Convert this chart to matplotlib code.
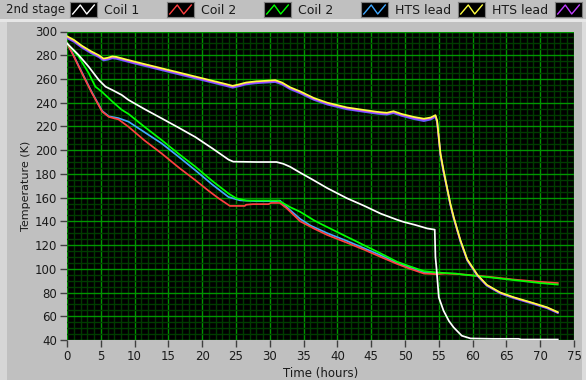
import matplotlib
matplotlib.use('Agg')
import matplotlib.pyplot as plt
from matplotlib.patches import Rectangle
from matplotlib.ticker import MultipleLocator

# time axis shared by the three overlapping HTS traces at the top
hts_t = [0, 1, 2.2, 3.5, 4.7, 5.4, 6.0, 6.7, 7.3, 8.5,
         10, 12, 14, 16, 18, 20, 22, 23.5, 24.5, 25.5,
         26.5, 28, 29.5, 30.8, 31.8, 33, 34.5, 36.5, 38.5, 41.4,
         44, 46, 47.3, 48.3, 49.5, 51.3, 52.8, 53.8, 54.5, 54.75,
         55.0, 55.25, 55.7, 56.2, 56.7, 57.2, 58.2, 59.2, 60.7, 62.1,
         64.1, 66.1, 68.6, 71.0, 72.6]
hts_yellow = [296, 293, 288, 283.5, 280, 277.2, 277.8, 279, 278.6, 276.8,
              274.6, 271.8, 269, 266.2, 263.4, 260.6, 257.8, 255.7, 254.2, 255.5,
              257, 258, 258.5, 259, 257, 253, 249.5, 244, 240, 236,
              233.8, 232.2, 231.5, 232.8, 230.5, 228, 226.5, 227.5, 229.5, 225,
              211, 197, 183, 169, 155, 143.6, 124, 108, 95, 86.5,
              80, 76, 71.8, 67.6, 63.5]
hts_purple = [295.2, 292.2, 287.2, 282.7, 279.2, 276.4, 277, 278.2, 277.8, 276,
              273.8, 271, 268.2, 265.4, 262.6, 259.8, 257, 254.9, 253.4, 254.7,
              256.2, 257.2, 257.7, 258.2, 256.2, 252.2, 248.7, 243.2, 239.2, 235.2,
              233, 231.4, 230.7, 232, 229.7, 227.2, 225.7, 226.7, 228.7, 224,
              210, 196, 182, 168.5, 154.5, 143, 123.5, 107.5, 94.5, 86.1,
              79.6, 75.6, 71.4, 67.2, 63.1]
hts_blue = [294.4, 291.4, 286.4, 281.9, 278.4, 275.6, 276.2, 277.4, 277, 275.2,
            273, 270.2, 267.4, 264.6, 261.8, 259, 256.2, 254.1, 252.6, 253.9,
            255.4, 256.4, 256.9, 257.4, 255.4, 251.4, 247.9, 242.4, 238.4, 234.4,
            232.2, 230.6, 229.9, 231.2, 228.9, 226.2, 224.5, 225.8, 228, 223.5,
            209.5, 195.5, 181.5, 168, 154, 142.5, 123, 107.1, 94.1, 85.7,
            79.2, 75.2, 71, 66.8, 62.7]

coil1_t = [0, 1.7, 3.2, 4.7, 5.7, 6.7, 8.1, 9.1, 11.5, 14,
           16.5, 19, 21.5, 23.9, 24.6, 28, 31, 32, 33, 34.5,
           36.5, 38.5, 41.4, 44, 46.4, 48.8, 49.8, 51.5, 53.3, 54.4,
           54.5, 54.65, 55.0, 55.7, 56.5, 57.2, 58.4, 59.7, 63, 66.8,
           67.2, 72.6]
coil1_y = [290, 280.3, 270.4, 259.2, 253.5, 250.7, 246.5, 242.3, 234.5, 226.8,
           219, 211, 201.5, 192, 190.3, 190, 190, 188.5, 186, 181,
           174.6, 168, 159.5, 153, 146.5, 141.4, 139.5, 137, 134, 133,
           110, 101, 76, 64.7, 56, 50.6, 43.6, 41.3, 41, 41,
           40.4, 40.4]

coil2r_t = [0, 0.75, 2.2, 3.7, 5.2, 6.2, 7.2, 7.6, 9.1, 11.5,
            14, 16.5, 19, 21, 22.4, 24.1, 26.3, 26.5, 27.5, 29.8,
            30.2, 31.5, 32.5, 34.5, 36.5, 38.5, 41.4, 44, 46.4, 48.8,
            50.5, 52.8, 54.6, 56, 58, 60, 62, 64, 66, 68,
            70, 72.6]
coil2r_y = [290, 282, 265, 248, 232.5, 228, 226.5, 226, 219.7, 208,
            197.2, 185.5, 174.6, 165.5, 159.5, 153, 153, 154, 154.5, 154.5,
            155.5, 155.5, 151, 140, 134, 128.5, 122, 116, 110, 104.2,
            100.5, 96, 95.5, 96, 95.5, 94.5, 93.5, 92.3, 91, 90,
            89, 88]

coil2g_t = [0, 1.7, 3.2, 4.2, 5.2, 6.7, 8.1, 9.1, 11.5, 14,
            16.5, 19, 21.5, 23.9, 25, 26.5, 31.3, 33, 34.5, 36.5,
            37.5, 41.4, 46.4, 48.8, 50.5, 52.8, 54.5, 55.5, 57.5, 58.5,
            61.2, 63, 66.1, 68, 70, 72.6]
coil2g_y = [290, 279, 265, 253.5, 249, 241, 234, 230.5, 219.5, 208.5,
            197, 186, 174, 163.4, 159.5, 157.5, 157.5, 152, 148, 141,
            138, 127, 113, 106, 102.5, 98, 97, 96.6, 96, 95.2,
            93.6, 92.5, 90.5, 89.3, 88, 86.7]

lead_t = [0, 0.75, 2.2, 3.7, 5.2, 6.2, 7.6, 9.1, 11.5, 14,
          16.5, 19, 21.5, 23.9, 25.6, 28, 31, 31.5, 32.5, 34.5,
          36, 38.5, 41.4, 46.4, 48.8, 52.8, 54.6]
lead_y = [290, 282.5, 265.5, 248.5, 233, 228.5, 227, 224, 215, 205.7,
          194.5, 183, 171, 160.5, 157.7, 157, 157, 157.5, 152, 142,
          136.5, 130, 123.5, 111.4, 105, 97, 96]

legend_labels = ['Coil 1', 'Coil 2', 'Coil 2', 'HTS lead', 'HTS lead', '']
legend_colors = ['#ffffff', '#ff4040', '#00ff00', '#40a8ff', '#ffff40', '#c040ff']

W, H = 586, 380
fig = plt.figure(figsize=(W / 100, H / 100), dpi=100, facecolor='#c0c0c0')

# panel decorations (LabVIEW style frame)
fig.patches.append(Rectangle((0, 0), 7 / W, (H - 22) / H, transform=fig.transFigure,
                             facecolor='#d6d6d6', edgecolor='none'))
fig.patches.append(Rectangle((0, (H - 22) / H), 1, 3 / H, transform=fig.transFigure,
                             facecolor='#e6e6e6', edgecolor='none'))
fig.patches.append(Rectangle((582 / W, 0), 4 / W, (H - 22) / H, transform=fig.transFigure,
                             facecolor='#dcdcdc', edgecolor='none'))

ax = fig.add_axes([67 / W, 1 - 340 / H, (574 - 67) / W, (340 - 31.5) / H])
ax.set_facecolor('black')

lw = 1.25
ax.plot(lead_t, lead_y, color='#40a8ff', lw=lw)
ax.plot(coil2r_t, coil2r_y, color='#ff4040', lw=lw)
ax.plot(coil2g_t, coil2g_y, color='#00ff00', lw=lw)
ax.plot(coil1_t, coil1_y, color='#ffffff', lw=lw)
ax.plot(hts_t, hts_blue, color='#6060ff', lw=lw)
ax.plot(hts_t, hts_purple, color='#c040ff', lw=lw)
ax.plot(hts_t, hts_yellow, color='#ffff40', lw=lw)

ax.set_xlim(0, 75)
ax.set_ylim(40, 300)
ax.xaxis.set_major_locator(MultipleLocator(5))
ax.xaxis.set_minor_locator(MultipleLocator(1))
ax.yaxis.set_major_locator(MultipleLocator(20))
ax.yaxis.set_minor_locator(MultipleLocator(5))
ax.grid(which='major', color='#009600', lw=1.0)
ax.grid(which='minor', color='#003c00', lw=1.0)
ax.set_axisbelow(True)
for s in ax.spines.values():
    s.set_visible(False)
ax.tick_params(which='minor', length=0)
ax.tick_params(which='major', direction='out', length=5, width=1, color='#404040',
               labelsize=8.5, labelcolor='#1a1a1a', pad=2)
ax.set_xlabel('Time (hours)', fontsize=8.5, color='#1a1a1a', labelpad=3)
ax.set_ylabel('Temperature (K)', fontsize=8, color='#1a1a1a', labelpad=3)

# legend strip along the top
fig.text(6 / W, 1 - 10 / H, '2nd stage', fontsize=8.5, color='#1a1a1a', va='center')
for i, (lab, col) in enumerate(zip(legend_labels, legend_colors)):
    x0 = 70 + 97 * i
    iax = fig.add_axes([x0 / W, 1 - 17 / H, 27 / W, 15 / H])
    iax.set_facecolor('black')
    iax.plot([0.1, 0.38, 0.62, 0.9], [0.2, 0.8, 0.2, 0.8], color=col, lw=1)
    iax.set_xlim(0, 1)
    iax.set_ylim(0, 1)
    iax.set_xticks([])
    iax.set_yticks([])
    for s in iax.spines.values():
        s.set_color('#808080')
    if lab:
        fig.text((x0 + 34) / W, 1 - 10 / H, lab, fontsize=9, color='#1a1a1a', va='center')

fig.savefig('out.png', dpi=100, facecolor=fig.get_facecolor())
